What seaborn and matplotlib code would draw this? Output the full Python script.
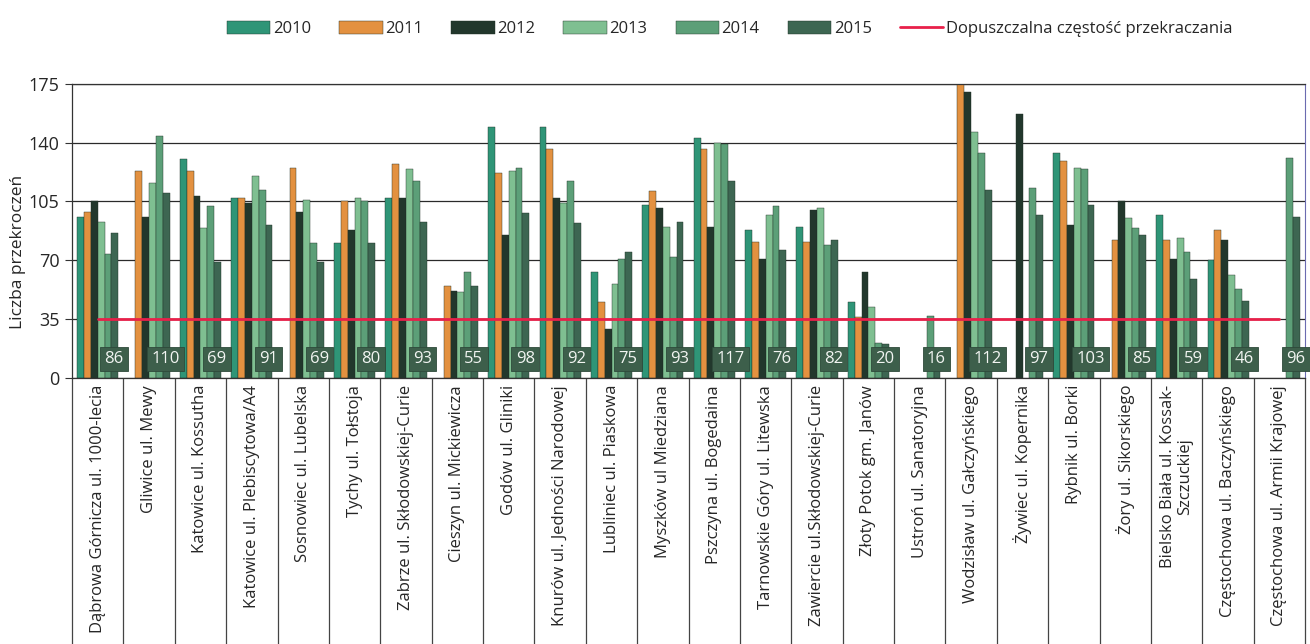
import numpy as np
import pandas as pd
import matplotlib
matplotlib.use("Agg")
import matplotlib.pyplot as plt
import seaborn as sns
from matplotlib.lines import Line2D

stations = [
    "Dąbrowa Górnicza ul. 1000-lecia", "Gliwice ul. Mewy", "Katowice ul. Kossutha",
    "Katowice ul. Plebiscytowa/A4", "Sosnowiec ul. Lubelska", "Tychy ul. Tołstoja",
    "Zabrze ul. Skłodowskiej-Curie", "Cieszyn ul. Mickiewicza", "Godów ul. Gliniki",
    "Knurów ul. Jedności Narodowej", "Lubliniec ul. Piaskowa", "Myszków ul Miedziana",
    "Pszczyna ul. Bogedaina", "Tarnowskie Góry ul. Litewska", "Zawiercie ul.Skłodowskiej-Curie",
    "Złoty Potok gm. Janów", "Ustroń ul. Sanatoryjna", "Wodzisław ul. Gałczyńskiego",
    "Żywiec ul. Kopernika", "Rybnik ul. Borki", "Żory ul. Sikorskiego",
    "Bielsko Biała ul. Kossak-\nSzczuckiej", "Częstochowa ul. Baczyńskiego",
    "Częstochowa ul. Armii Krajowej",
]
nan = np.nan
v2010 = [96, nan, 130, 107, nan, 80, 107, nan, 149, 149, 63, 103, 143, 88, 90, 45, nan, nan, nan, 134, nan, 97, 70, nan]
v2011 = [99, 123, 123, 107, 125, 105, 127, 55, 122, 136, 45, 111, 136, 81, 81, 36, nan, 176, nan, 129, 82, 82, 88, nan]
v2012 = [105, 96, 108, 104, 99, 88, 107, 52, 85, 107, 29, 101, 90, 71, 100, 63, nan, 170, 157, 91, 105, 71, 82, nan]
v2013 = [93, 116, 89, 120, 106, 107, 124, 51, 123, 104, 56, 90, 140, 97, 101, 42, nan, 146, nan, 125, 95, 83, 61, nan]
v2014 = [74, 144, 102, 112, 80, 105, 117, 63, 125, 117, 71, 72, 139, 102, 79, 21, 37, 134, 113, 124, 89, 75, 53, 131]
v2015 = [86, 110, 69, 91, 69, 80, 93, 55, 98, 92, 75, 93, 117, 76, 82, 20, 16, 112, 97, 103, 85, 59, 46, 96]
box_labels = [86, 110, 69, 91, 69, 80, 93, 55, 98, 92, 75, 93, 117, 76, 82, 20, 16, 112, 97, 103, 85, 59, 46, 96]
limit = [35] * len(stations)

years = ["2010", "2011", "2012", "2013", "2014", "2015"]
colors = ["#2f9577", "#e39140", "#22372c", "#7fbf91", "#5c9f78", "#3d6652"]

rows = []
for y, vals in zip(years, [v2010, v2011, v2012, v2013, v2014, v2015]):
    for s, v in zip(stations, vals):
        rows.append({"station": s, "year": y, "value": v})
df = pd.DataFrame(rows)

sns.set_style("white")
plt.rcParams["font.family"] = ["Open Sans", "DejaVu Sans"]

fig = plt.figure(figsize=(13.1, 6.44), dpi=100)
ax = fig.add_axes([0.055, 0.413, 0.9413, 0.457])

sns.barplot(data=df, x="station", y="value", hue="year", palette=colors,
            saturation=1, width=0.8, edgecolor="#1e2e26", linewidth=0.3, ax=ax)
ax.plot(range(len(stations)), limit, color="#e8204a", lw=2, zorder=5)

for i, lab in enumerate(box_labels):
    ax.text(i + 0.32, 11.5, str(lab), ha="center", va="center", fontsize=12,
            color="#f2f5f2", zorder=6,
            bbox=dict(boxstyle="square,pad=0.25", fc="#3d5f4b", ec="#2e4a3a", lw=0.6))

ax.set_ylim(0, 175)
ax.set_xlim(-0.5, len(stations) - 0.5)
ax.set_yticks([0, 35, 70, 105, 140, 175])
ax.tick_params(axis="y", left=True, labelsize=13, length=5, width=0.8, color="#333", pad=4)
ax.set_ylabel("Liczba przekroczeń", fontsize=12.5)
ax.yaxis.set_label_coords(-0.037, 0.43)
ax.set_xlabel("")

ax.set_xticks(range(len(stations)))
ax.set_xticklabels(stations, rotation=90, ha="center", va="top", fontsize=12, linespacing=1.05)
ax.set_xticks(np.arange(-0.5, len(stations), 1.0), minor=True)
ax.tick_params(axis="x", which="major", bottom=True, length=0, pad=5)
ax.tick_params(axis="x", which="minor", bottom=True, length=195, width=0.9, color="#444")

ax.yaxis.grid(True, color="#2a2a2a", lw=0.9)
ax.set_axisbelow(True)
for side in ["left", "bottom", "top"]:
    ax.spines[side].set_visible(True)
    ax.spines[side].set_color("#333")
    ax.spines[side].set_linewidth(0.9)
ax.spines["right"].set_visible(True)
ax.spines["right"].set_color("#6b6bb0")

handles, labels = ax.get_legend_handles_labels()
ax.get_legend().remove()
handles.append(Line2D([0], [0], color="#e8204a", lw=2))
labels.append("Dopuszczalna częstość przekraczania")
fig.legend(handles, labels, loc="center", bbox_to_anchor=(0.557, 0.955), ncol=7,
           frameon=False, fontsize=12, handlelength=2.6, handleheight=0.8,
           handletextpad=0.15, columnspacing=1.7)

fig.savefig("out.png", dpi=100)
